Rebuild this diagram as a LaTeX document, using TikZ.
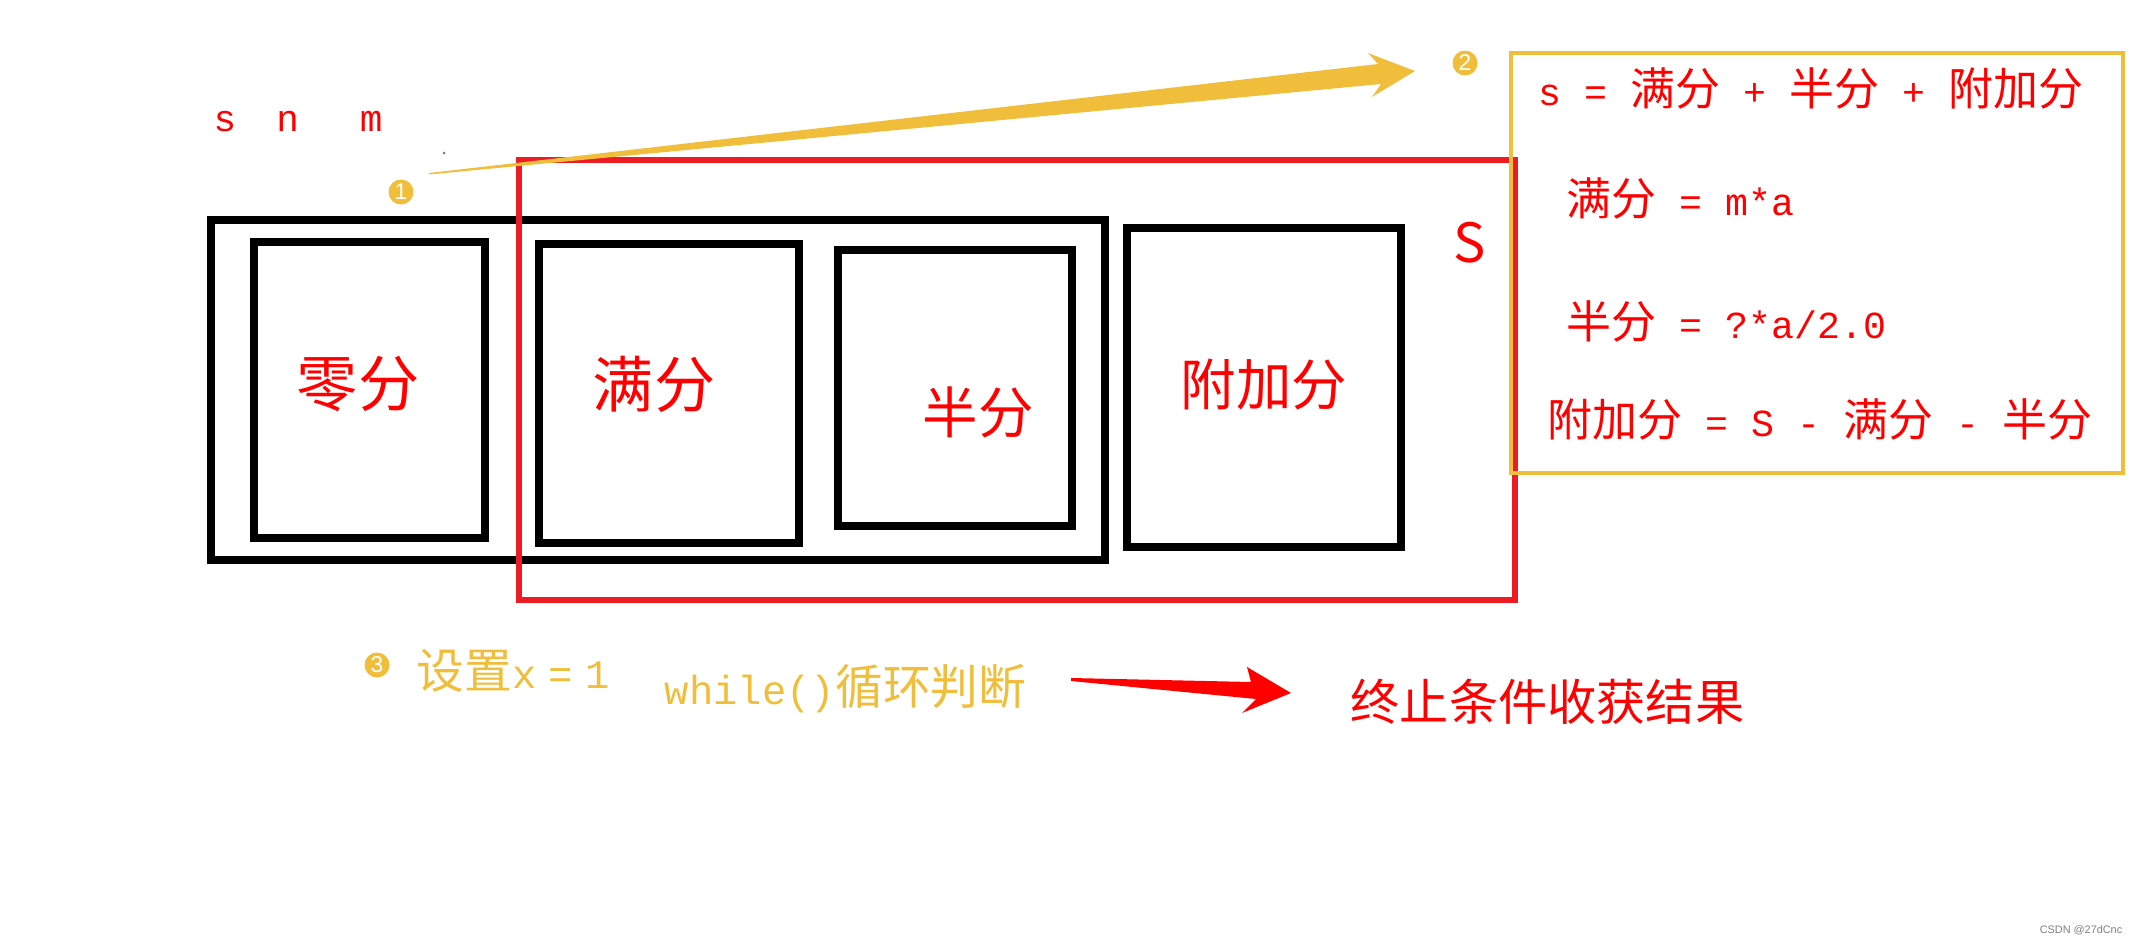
\documentclass[tikz,border=0pt]{standalone}
\usepackage{fontspec}
\setmainfont{Liberation Mono}[Scale=0.85]
\newfontfamily\cjk{Noto Sans CJK SC}
\newfontfamily\wmfont{Liberation Sans}
\newcommand{\zh}[1]{{\cjk #1}}
\definecolor{boxred}{RGB}{237,28,36}
\definecolor{gold}{RGB}{240,190,58}

\begin{document}
\begin{tikzpicture}[
  cell/.style={draw=black,line width=0.072cm,inner sep=0pt},
  frame/.style={draw=boxred,line width=0.062cm,inner sep=0pt},
  goldframe/.style={draw=gold,line width=0.032cm,inner sep=0pt},
  big/.style={text=red,inner sep=0pt,font=\fontsize{17.4}{20}\selectfont\cjk},
  mid/.style={text=red,inner sep=0pt,font=\fontsize{15.8}{18}\selectfont\cjk},
  formula/.style={text=red,anchor=west,inner sep=0pt,font=\fontsize{12.8}{15}\selectfont},
  bottomtxt/.style={anchor=west,inner sep=0pt,font=\fontsize{13.6}{16}\selectfont},
  numdot/.style={circle,fill=gold,minimum size=0.25cm,inner sep=0pt,text=white,font=\fontsize{6.5}{7}\selectfont\wmfont}
]
  \path[use as bounding box,fill=white] (0,0) rectangle (21.41,-9.44);

  % black boxes
  \node[cell,minimum width=8.94cm,minimum height=3.40cm] (outer) at (6.58,-3.90) {};
  \node[cell,minimum width=2.31cm,minimum height=2.96cm] (zeroBox) at (3.695,-3.90) {};
  \node[cell,minimum width=2.60cm,minimum height=2.99cm] (fullBox) at (6.69,-3.935) {};
  \node[cell,minimum width=2.34cm,minimum height=2.76cm] (halfBox) at (9.55,-3.88) {};
  \node[cell,minimum width=2.74cm,minimum height=3.19cm] (extraBox) at (12.64,-3.875) {};

  \node[big] (zeroTxt) at (3.58,-3.84) {零分};
  \node[big] (fullTxt) at (6.54,-3.84) {满分};
  \node[mid] (halfTxt) at (9.78,-4.12) {半分};
  \node[mid] (extraTxt) at (12.64,-3.85) {附加分};

  % red frame S
  \node[frame,minimum width=9.96cm,minimum height=4.40cm] (sumBox) at (10.17,-3.80) {};
  \node[text=red,inner sep=0pt,font=\fontsize{15.4}{17}\selectfont\cjk] (sumTxt) at (14.70,-2.43) {S};

  % formulas
  \node[goldframe,minimum width=6.12cm,minimum height=4.20cm] (formBox) at (18.17,-2.63) {};
  \node[formula] (f1) at (15.38,-0.88) {s = \zh{满分} + \zh{半分} + \zh{附加分}};
  \node[formula] (f2) at (15.66,-1.98) {\zh{满分} = m*a};
  \node[formula] (f3) at (15.66,-3.21) {\zh{半分} = ?*a/2.0};
  \node[formula] (f4) at (15.47,-4.19) {\zh{附加分} = S - \zh{满分} - \zh{半分}};

  \node[text=red,anchor=west,inner sep=0pt,font=\fontsize{12.6}{14}\selectfont] (vars) at (2.13,-1.22)
    {s\hspace{0.40cm}n\hspace{0.61cm}m};
  \fill[gray] (4.44,-1.53) circle (0.015);

  % steps
  \node[numdot] (one) at (4.01,-1.92) {1};
  \node[numdot] (two) at (14.65,-0.63) {2};
  \node[numdot] (three) at (3.77,-6.65) {3};

  \node[bottomtxt,text=gold] (init) at (4.16,-6.71) {\zh{设置}x\hspace{0.12cm}=\hspace{0.12cm}1};
  \node[bottomtxt,text=gold] (loop) at (6.64,-6.89) {while()\zh{循环判断}};
  \node[bottomtxt,text=red,font=\fontsize{14}{16}\selectfont\cjk] (result) at (13.50,-7.02) {终止条件收获结果};

  % wedge arrows
  \coordinate (ytail) at (4.29,-1.73);
  \coordinate (ytip) at (14.15,-0.71);
  \fill[gold] (ytail) -- (13.78,-0.64) -- (13.68,-0.53) -- (ytip)
    -- (13.72,-0.97) -- (13.81,-0.84) -- (4.29,-1.745) -- cycle;
  \coordinate (rtail) at (10.71,-6.78);
  \coordinate (rtip) at (12.91,-6.93);
  \fill[red] (rtail) -- (12.51,-6.82) -- (12.47,-6.67) -- (rtip)
    -- (12.42,-7.13) -- (12.56,-6.99) -- (10.71,-6.81) -- cycle;

  \node[text=gray,inner sep=0pt,font=\fontsize{3.1}{4}\selectfont\wmfont] (mark) at (20.81,-9.30) {CSDN @27dCnc};
\end{tikzpicture}
\end{document}
